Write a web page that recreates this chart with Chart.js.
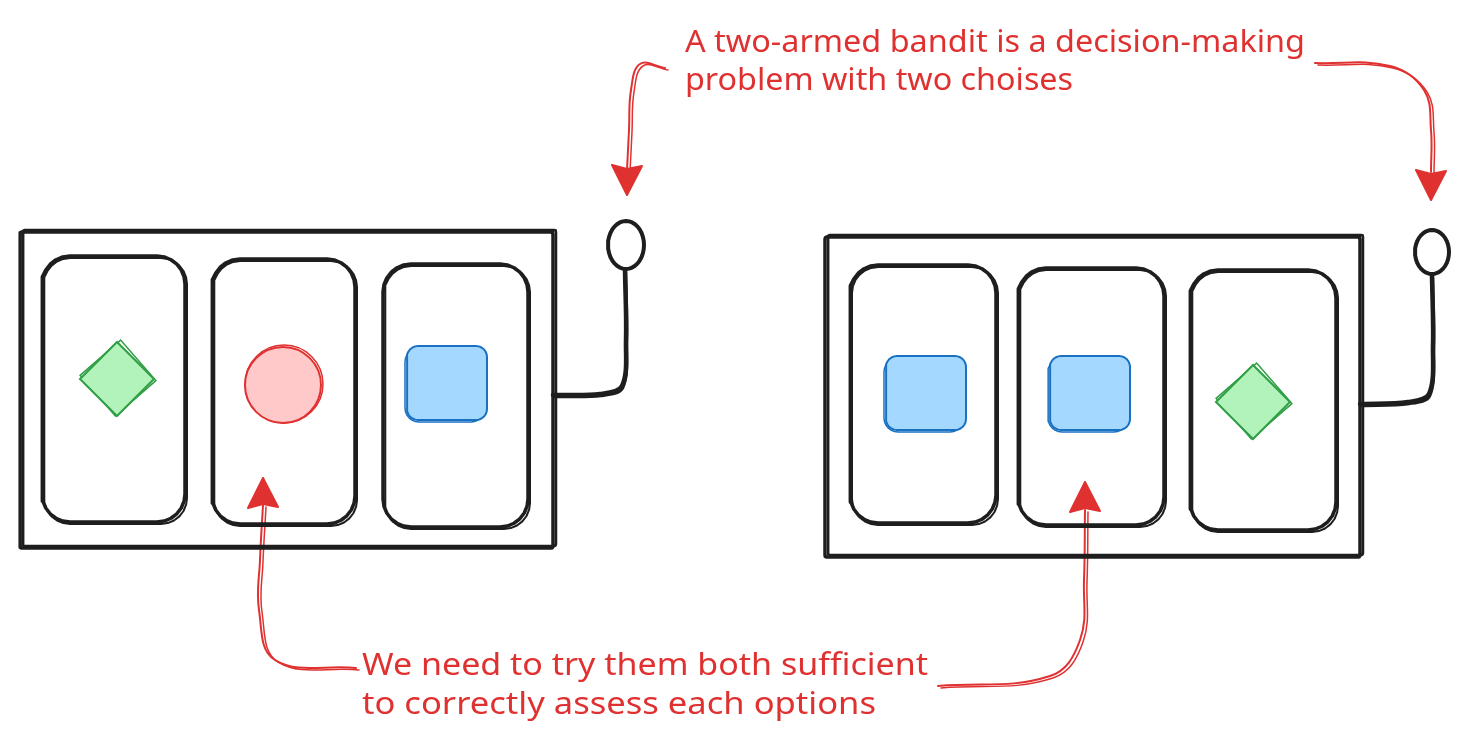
<!DOCTYPE html>
<html>
<head>
<meta charset="utf-8">
<script src="https://cdn.jsdelivr.net/npm/chart.js@4"></script>
<style>
	html, body { margin: 0; padding: 0; background: #fff; overflow: hidden; }
	#wrap { width: 1470px; height: 744px; position: relative; }
</style>
</head>
<body>
<div id="wrap"><canvas id="sketch"></canvas></div>
<script>
// drawing units = image pixels, y grows downward
var outerBoxes = [[20, 232, 553, 548], [825, 237, 1360, 557]];
var reelBoxes = [
	[42, 256, 185, 522], [212, 259, 355, 524], [383, 264, 528, 527],
	[850, 265, 996, 523], [1018, 268, 1164, 525], [1190, 270, 1336, 530]
];
var leverPaths = [
	[[553, 395], [600, 394], [622, 386], [626, 340], [625, 270]],
	[[1360, 404], [1408, 402], [1429, 394], [1433, 345], [1432, 276]]
];
var knobs = [[626, 245, 18, 24], [1432, 252, 17, 22]];

var symbolKind = ['diamond', 'circle', 'square', 'square', 'square', 'diamond'];
var symbolX = [117, 283, 447, 926, 1090, 1253];
var symbolY = [379, 385, 383, 393, 393, 402];

var arrowPaths = [
	[[665, 68], [640, 64], [631, 90], [629, 130], [627, 170]],
	[[1315, 63], [1390, 66], [1424, 90], [1431, 130], [1431, 172]],
	[[356, 668], [275, 660], [259, 610], [260, 560], [263, 505]],
	[[938, 686], [1050, 676], [1080, 640], [1084, 580], [1085, 510]]
];
var arrowTips = [[627, 195, 1], [1431, 200, 1], [263, 478, -1], [1085, 482, -1]];

var textLines = [
	'A two-armed bandit is a decision-making',
	'problem with two choises',
	'We need to try them both sufficient',
	'to correctly assess each options'
];
var textX = [685, 685, 362, 362];
var textY = [52, 90, 675, 714];
var textW = [620, 388, 566, 514];

var INK = '#1e1e1e', RED = '#e03131';
var symbolStyle = {
	diamond: { style: 'rectRot', r: 37, fill: '#b2f2bb', line: '#2f9e44' },
	circle: { style: 'circle', r: 38, fill: '#ffc9c9', line: '#e03131' },
	square: { half: [40, 37], corner: 11, fill: '#a5d8ff', line: '#1971c2' }
};

function pt(p) { return { x: p[0], y: p[1] }; }

// outline of a rounded box, corners as short arcs
function roundBox(b, r, dx, dy) {
	dx = dx || 0; dy = dy || 0;
	var x1 = b[0] + dx, y1 = b[1] + dy, x2 = b[2] + dx, y2 = b[3] + dy;
	var corners = [[x2 - r, y1 + r, -90], [x2 - r, y2 - r, 0], [x1 + r, y2 - r, 90], [x1 + r, y1 + r, 180]];
	var out = [];
	corners.forEach(function(c) {
		for (var k = 0; k <= 6; k++) {
			var a = (c[2] + k * 15) * Math.PI / 180;
			out.push({ x: c[0] + r * Math.cos(a), y: c[1] + r * Math.sin(a) });
		}
	});
	out.push(out[0]);
	return out;
}

function ellipse(e) {
	var out = [];
	for (var k = 0; k <= 36; k++) {
		var a = k * 10 * Math.PI / 180;
		out.push({ x: e[0] + e[2] * Math.cos(a), y: e[1] + e[3] * Math.sin(a) });
	}
	return out;
}

function lineSet(data, color, width, tension) {
	return {
		type: 'scatter', data: data, showLine: true, borderColor: color, borderWidth: width,
		pointRadius: 0, tension: tension || 0, fill: false, clip: false,
		borderCapStyle: 'round', borderJoinStyle: 'round'
	};
}

var datasets = [];

outerBoxes.forEach(function(b) {
	datasets.push(lineSet(roundBox(b, 2), INK, 3.5));
	datasets.push(lineSet(roundBox(b, 2, 3, -2), INK, 2.5));
});
reelBoxes.forEach(function(b) {
	datasets.push(lineSet(roundBox(b, 28), INK, 3.5));
	datasets.push(lineSet(roundBox(b, 26, 2, 2), INK, 2));
});
leverPaths.forEach(function(p) {
	datasets.push(lineSet(p.map(pt), INK, 4.5, 0.35));
	datasets.push(lineSet(p.map(function(q) { return { x: q[0] + 1, y: q[1] + 2 }; }), INK, 2.5, 0.35));
});
knobs.forEach(function(e) {
	datasets.push(lineSet(ellipse(e), INK, 4, 0));
});

symbolKind.forEach(function(kind, i) {
	var s = symbolStyle[kind];
	var x = symbolX[i], y = symbolY[i];
	if (kind === 'square') {
		var b = [x - s.half[0], y - s.half[1], x + s.half[0], y + s.half[1]];
		var sq = lineSet(roundBox(b, s.corner), s.line, 2, 0);
		sq.fill = 'shape';
		sq.backgroundColor = s.fill;
		datasets.push(sq);
		datasets.push(lineSet(roundBox(b, s.corner + 3, -2, 2), s.line, 1.5, 0));
		return;
	}
	datasets.push({
		type: 'scatter', data: [{ x: x, y: y }], pointStyle: s.style,
		pointRadius: s.r, pointBackgroundColor: s.fill, pointBorderColor: s.line,
		pointBorderWidth: 2, clip: false
	});
	datasets.push({
		type: 'scatter', data: [{ x: x + 1, y: y - 1 }], pointStyle: s.style,
		pointRadius: s.r + 1, pointRotation: 4, pointBackgroundColor: 'rgba(0,0,0,0)',
		pointBorderColor: s.line, pointBorderWidth: 1.5, clip: false
	});
});

arrowPaths.forEach(function(p) {
	datasets.push(lineSet(p.map(pt), RED, 2, 0.4));
	datasets.push(lineSet(p.map(function(q) { return { x: q[0] + 3, y: q[1] + 2 }; }), RED, 1.5, 0.4));
});
arrowTips.forEach(function(t) {
	var head = [
		{ x: t[0], y: t[1] },
		{ x: t[0] - 15, y: t[1] - t[2] * 30 },
		{ x: t[0], y: t[1] - t[2] * 26 },
		{ x: t[0] + 15, y: t[1] - t[2] * 29 },
		{ x: t[0], y: t[1] }
	];
	var ds = lineSet(head, RED, 2, 0);
	ds.fill = 'shape';
	ds.backgroundColor = RED;
	datasets.push(ds);
});

var notes = {
	id: 'notes',
	afterDatasetsDraw: function(chart) {
		var c = chart.ctx, sx = chart.scales.x, sy = chart.scales.y;
		c.save();
		c.fillStyle = RED;
		c.font = '31px "Noto Sans"';
		c.textBaseline = 'alphabetic';
		textLines.forEach(function(t, i) {
			var x = sx.getPixelForValue(textX[i]), y = sy.getPixelForValue(textY[i]);
			var w = c.measureText(t).width;
			c.save();
			c.translate(x, y);
			c.scale(textW[i] / w, 1);
			c.fillText(t, 0, 0);
			c.restore();
		});
		c.restore();
	}
};

new Chart(document.getElementById('sketch'), {
	type: 'scatter',
	data: { datasets: datasets },
	plugins: [notes],
	options: {
		responsive: true,
		maintainAspectRatio: false,
		animation: false,
		layout: { padding: 0, autoPadding: false },
		plugins: { legend: { display: false }, tooltip: { enabled: false } },
		events: [],
		scales: {
			x: { type: 'linear', min: 0, max: 1470, display: false },
			y: { type: 'linear', min: 0, max: 744, reverse: true, display: false }
		}
	}
});
</script>
</body>
</html>
